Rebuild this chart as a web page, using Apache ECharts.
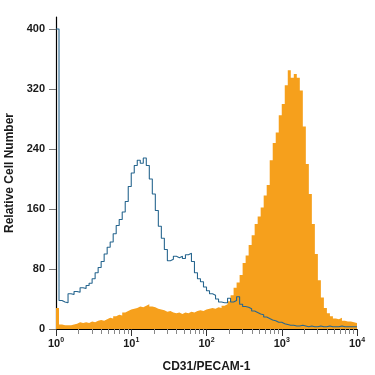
<!DOCTYPE html>
<html>
<head>
<meta charset="utf-8">
<script src="https://cdn.jsdelivr.net/npm/echarts@6/dist/echarts.min.js"></script>
<style>
html,body{margin:0;padding:0;background:#fff;}
#chart{width:375px;height:375px;}
</style>
</head>
<body>
<div id="chart"></div>
<script>
// Histogram channels: 25 bins per decade, from 10^0 to 10^4
const binsPerDecade = 25;
const xMin = 1, xMax = 10000;
const yTicks = [0, 80, 160, 240, 320, 400];
const xMajorTicks = [1, 10, 100, 1000, 10000];
const xMinorTicks = [2,3,4,5,6,7,8,9,20,30,40,50,60,70,80,90,200,300,400,500,600,700,800,900,2000,3000,4000,5000,6000,7000,8000,9000];

// Isotype control (blue outline)
const controlCounts = [
  400, 38, 36, 35, 47, 46, 50, 49, 55, 54,
  58, 61, 67, 75, 82, 90, 100, 109, 116, 127,
  138, 146, 156, 170, 190, 208, 218, 225, 221, 228,
  218, 200, 180, 158, 137, 121, 106, 91, 93, 97,
  95, 97, 94, 99, 101, 90, 75, 67, 63, 56,
  51, 47, 45, 40, 36, 35, 35, 41, 36, 38,
  43, 33, 30, 29, 27, 24, 22, 20, 19, 16,
  14, 12, 11, 9, 9, 7, 6, 5, 5, 4,
  4, 5, 4, 3, 4, 3, 3, 4, 3, 3,
  4, 3, 3, 3, 4, 3, 3, 3, 3, 3
];

// CD31/PECAM-1 stained (orange filled)
const stainedCounts = [
  28, 6, 5, 5, 5, 6, 7, 9, 8, 9,
  8, 10, 9, 11, 12, 11, 13, 15, 14, 17,
  19, 18, 22, 24, 26, 27, 28, 30, 29, 31,
  33, 30, 29, 27, 26, 25, 23, 24, 22, 21,
  22, 20, 22, 21, 23, 22, 24, 25, 24, 26,
  27, 28, 27, 29, 28, 31, 33, 37, 45, 55,
  62, 72, 88, 98, 112, 125, 140, 150, 162, 178,
  192, 225, 248, 262, 285, 300, 325, 345, 335, 340,
  335, 318, 270, 220, 180, 140, 100, 65, 42, 28,
  21, 17, 14, 13, 15, 11, 10, 10, 9, 8
];

function toSteps(counts) {
  const pts = counts.map((c, i) => [Math.pow(10, i / binsPerDecade), c]);
  pts.push([xMax, counts[counts.length - 1]]);
  return pts;
}

const fontFam = '"Liberation Sans",Arial,sans-serif';
const textColor = '#1a1a1a';

const chart = echarts.init(document.getElementById('chart'), null, {renderer: 'canvas'});
chart.setOption({
  animation: false,
  backgroundColor: '#fff',
  grid: {left: 56, right: 18, top: 17, bottom: 46, containLabel: false, outerBoundsMode: 'none'},
  xAxis: [{
    type: 'log',
    logBase: 10,
    min: xMin,
    max: xMax,
    name: 'CD31/PECAM-1',
    nameLocation: 'middle',
    nameGap: 32,
    nameTextStyle: {fontFamily: fontFam, fontWeight: 'bold', fontSize: 12, color: textColor},
    axisLine: {show: true, lineStyle: {color: '#000', width: 1.2}},
    axisTick: {show: true, length: 7, lineStyle: {color: '#333'}, customValues: xMajorTicks},
    axisLabel: {
      margin: 8,
      customValues: xMajorTicks,
      formatter: function (v) {
        const e = Math.round(Math.log10(v));
        return '{b|10}{s|' + e + '}';
      },
      rich: {
        b: {fontFamily: fontFam, fontWeight: 'bold', fontSize: 11, color: textColor},
        s: {fontFamily: fontFam, fontWeight: 'bold', fontSize: 7, color: textColor, verticalAlign: 'top', padding: [0,0,6,0]}
      }
    },
    splitLine: {show: false},
    minorTick: {show: false}
  }, {
    type: 'log',
    logBase: 10,
    min: xMin,
    max: xMax,
    position: 'bottom',
    gridIndex: 0,
    axisLine: {show: false},
    axisTick: {show: true, length: 5, lineStyle: {color: '#888'}, customValues: xMinorTicks},
    axisLabel: {show: false},
    splitLine: {show: false}
  }],
  yAxis: {
    type: 'value',
    min: 0,
    max: 416,
    name: 'Relative Cell Number',
    nameLocation: 'middle',
    nameGap: 40,
    nameRotate: 90,
    nameTextStyle: {fontFamily: fontFam, fontWeight: 'bold', fontSize: 12, color: textColor},
    axisLine: {show: true, lineStyle: {color: '#000', width: 1.2}},
    axisTick: {show: true, length: 7, lineStyle: {color: '#777'}, customValues: yTicks},
    axisLabel: {
      margin: 11,
      customValues: yTicks,
      fontFamily: fontFam, fontWeight: 'bold', fontSize: 11, color: textColor
    },
    splitLine: {show: false}
  },
  series: [{
    name: 'CD31/PECAM-1',
    type: 'line',
    xAxisIndex: 0,
    step: 'end',
    symbol: 'none',
    data: toSteps(stainedCounts),
    lineStyle: {width: 0},
    areaStyle: {color: '#f6a01c', opacity: 1},
    z: 2
  }, {
    name: 'Isotype',
    type: 'line',
    xAxisIndex: 0,
    step: 'end',
    symbol: 'none',
    data: toSteps(controlCounts),
    lineStyle: {width: 1.1, color: '#27668f'},
    z: 3
  }]
});
</script>
</body>
</html>
